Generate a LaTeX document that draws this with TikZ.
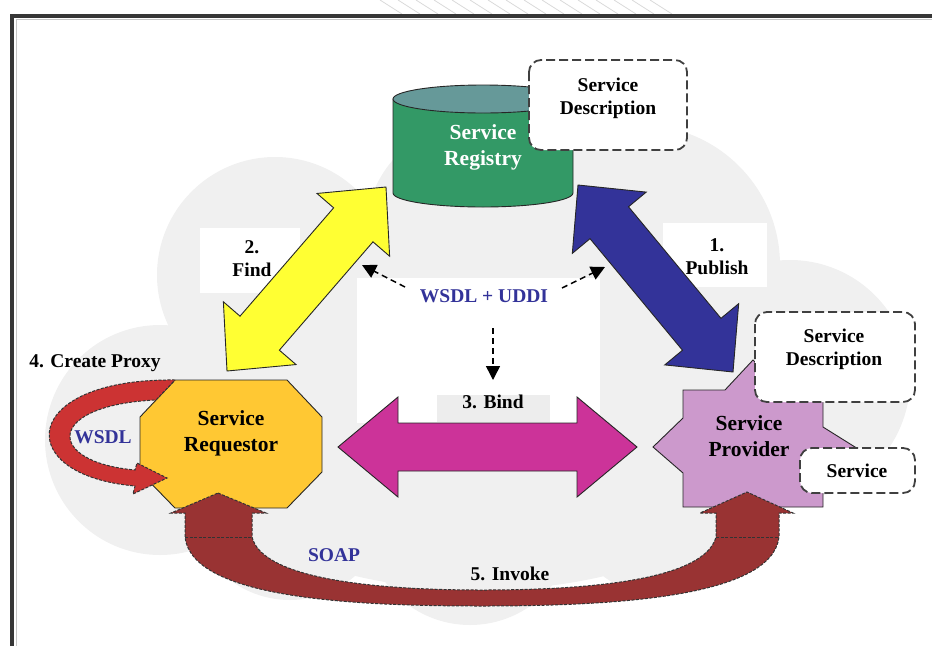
\documentclass[tikz,border=0pt]{standalone}
\usepackage{fontspec}
\setmainfont{Liberation Serif}
\usetikzlibrary{calc,arrows.meta}

\definecolor{regbody}{RGB}{51,153,102}
\definecolor{regtop}{RGB}{102,153,153}
\definecolor{findyellow}{RGB}{255,255,51}
\definecolor{pubblue}{RGB}{51,51,153}
\definecolor{bindpink}{RGB}{204,51,153}
\definecolor{reqgold}{RGB}{255,200,51}
\definecolor{provlilac}{RGB}{204,153,204}
\definecolor{proxyred}{RGB}{204,51,51}
\definecolor{invokemaroon}{RGB}{153,51,51}
\definecolor{navytext}{RGB}{51,51,153}
\definecolor{cloudgray}{RGB}{240,240,240}
\definecolor{framegray}{RGB}{55,55,55}

% double-headed block arrow between two named tips:
% #1 style, #2 tip A, #3 tip B, #4 shaft half width, #5 head half width, #6 head length
\newcommand\fatdarrow[6]{%
  \path ($(#2)!#6!(#3)$) coordinate (fa1) ($(#3)!#6!(#2)$) coordinate (fa2);
  \draw[#1] (#2) -- ($(fa1)!#5!90:(#3)$) -- ($(fa1)!#4!90:(#3)$)
    -- ($(fa2)!#4!-90:(#2)$) -- ($(fa2)!#5!-90:(#2)$) -- (#3)
    -- ($(fa2)!#5!90:(#2)$) -- ($(fa2)!#4!90:(#2)$)
    -- ($(fa1)!#4!-90:(#3)$) -- ($(fa1)!#5!-90:(#3)$) -- cycle;}

\begin{document}
\begin{tikzpicture}[x=1pt,y=-1pt,
  outline/.style={draw=black!85,line width=0.9pt,line join=miter},
  descbox/.style={draw=black!75,line width=1.8pt,dash pattern=on 9pt off 4pt,
    rounded corners=12pt,fill=white},
  bandline/.style={draw=black!80,line width=1pt,dash pattern=on 3pt off 1.5pt},
  bigtxt/.style={font=\bfseries\fontsize{21.5}{26}\selectfont,align=center,inner sep=0pt},
  txt/.style={font=\bfseries\fontsize{19.5}{23}\selectfont,align=center,inner sep=0pt},
  navytxt/.style={txt,text=navytext},
  dasharrow/.style={draw=black,line width=1.5pt,dash pattern=on 6pt off 4pt,
    -{Triangle[length=14pt,width=14pt]}}]
\useasboundingbox (0,0) rectangle (932,646);

% faint hatching above the frame
\begin{scope}
  \clip (370,0) rectangle (680,14);
  \foreach \hx in {380,398,...,660}
    \draw[gray!30,line width=0.8pt] (\hx,0) -- (\hx+22,14);
\end{scope}

% light cloud behind the diagram
\fill[cloudgray]
  (275,275) circle (118)
  (480,235) circle (115)
  (640,265) circle (140)
  (790,380) circle (120)
  (160,440) circle (115)
  (290,500) circle (100)
  (470,520) circle (105)
  (660,500) circle (95)
  (480,400) ellipse [x radius=330,y radius=190];
\fill[white] (200,228) rectangle (300,293);
\fill[white] (663,223) rectangle (767,287);
\fill[white] (357,278) rectangle (600,423);
\fill[black!7] (437,395) rectangle (550,422);

% frame
\draw[gray!45,line width=1pt] (16,646) -- (16,19) -- (932,19);
\draw[framegray,line width=4pt] (12,646) -- (12,16) -- (932,16);

% block arrows: find, publish, bind
\coordinate (find-req) at (227,371);
\coordinate (find-reg) at (386,187);
\coordinate (pub-reg)  at (578,185);
\coordinate (pub-prov) at (733,372);
\coordinate (bind-req) at (338,447);
\coordinate (bind-prov) at (637,447);
\fatdarrow{outline,fill=findyellow}{find-req}{find-reg}{26pt}{48pt}{50pt}
\fatdarrow{outline,fill=pubblue}{pub-reg}{pub-prov}{25pt}{48pt}{49pt}
\fatdarrow{outline,fill=bindpink}{bind-req}{bind-prov}{24pt}{50pt}{60pt}

% service registry cylinder
\draw[outline,fill=regbody] (393,99) -- (393,193)
  arc[start angle=180,end angle=0,x radius=90,y radius=14] -- (573,99) -- cycle;
\draw[outline,fill=regtop] (483,99) ellipse [x radius=90,y radius=14];
\node[bigtxt,text=white] (reg) at (483,147) {Service\\Registry};

% description attached to the registry
\draw[descbox] (529,60) rectangle (687,150);
\node[txt] (regdesc) at (608,98) {Service\\Description};

% service requestor (octagon)
\draw[outline,fill=reqgold] (175,380) -- (287,380) -- (322,417) -- (322,472)
  -- (287,508) -- (175,508) -- (140,472) -- (140,417) -- cycle;
\node[bigtxt] (req) at (231,433) {Service\\Requestor};

% service provider (star)
\draw[outline,fill=provlilac] (683,390) -- (725,390) -- (753,360) -- (781,390)
  -- (823,390) -- (823,427) -- (855,447) -- (823,467) -- (823,507)
  -- (683,507) -- (683,473) -- (653,447) -- (683,418) -- cycle;
\node[bigtxt] (prov) at (749,436) {Service\\Provider};

% provider's description and service
\draw[descbox] (755,312) rectangle (915,402);
\node[txt] (provdesc) at (834,349) {Service\\Description};
\draw[descbox] (800,448) rectangle (915,493);
\node[txt] (svc) at (857,471) {Service};

% create proxy loop
\draw[bandline,fill=proxyred] (175,380)
  .. controls (20,378) and (10,475) .. (135,486)
  -- (133,494) -- (167,478) -- (137,463) -- (135,470)
  .. controls (45,462) and (45,405) .. (156,400) -- cycle;

% invoke loop
\draw[bandline,fill=invokemaroon] (218,493) -- (266,513) -- (252,513) -- (252,537)
  .. controls (262,578) and (370,590) .. (482,590)
  .. controls (600,590) and (705,578) .. (716,537)
  -- (716,513) -- (700,513) -- (747,492) -- (793,513) -- (779,513) -- (779,537)
  .. controls (772,598) and (610,606) .. (482,606)
  .. controls (350,606) and (192,598) .. (185,537)
  -- (185,513) -- (171,513) -- cycle;
\draw[bandline] (185,537) -- (252,537);
\draw[bandline] (716,537) -- (779,537);

% labels
\node[txt] (find) at (252,259) {2.\\Find};
\node[txt] (publish) at (717,257) {1.\\Publish};
\node[txt] (bind) at (493,402) {3. Bind};
\node[txt] (proxy) at (95,363) {4. Create Proxy};
\node[navytxt] (wsdl) at (103,437) {WSDL};
\node[navytxt] (soap) at (334,555) {SOAP};
\node[txt] (invoke) at (510,574) {5. Invoke};
\node[navytxt] (wu) at (484,296) {WSDL + UDDI};

% dashed pointers from WSDL + UDDI
\coordinate (wu-l) at (405,287);
\coordinate (wu-r) at (562,288);
\coordinate (wu-d) at (493,328);
\coordinate (wu-lt) at (362,265);
\coordinate (wu-rt) at (605,267);
\coordinate (wu-dt) at (493,380);
\draw[dasharrow] (wu-l) -- (wu-lt);
\draw[dasharrow] (wu-r) -- (wu-rt);
\draw[dasharrow] (wu-d) -- (wu-dt);
\end{tikzpicture}
\end{document}
